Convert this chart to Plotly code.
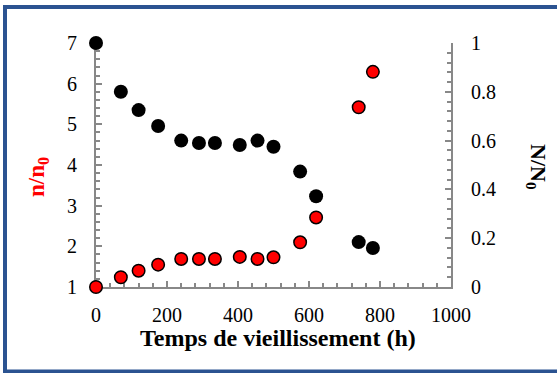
import plotly.graph_objects as go

# Data
time_h = [0, 70, 120, 175, 240, 290, 335, 405, 455, 500, 575, 620, 740, 780]
n_ratio = [1.0, 1.24, 1.40, 1.55, 1.69, 1.69, 1.69, 1.74, 1.69, 1.73, 2.10, 2.71, 5.42, 6.29]
N_ratio = [1.0, 0.80, 0.725, 0.66, 0.60, 0.59, 0.59, 0.582, 0.60, 0.575, 0.473, 0.372, 0.184, 0.16]

x_ticks = [0, 200, 400, 600, 800, 1000]
left_ticks = [1, 2, 3, 4, 5, 6, 7]
right_ticks = [0, 0.2, 0.4, 0.6, 0.8, 1]

FONT = "Liberation Serif"
AX = "#888888"
W, H = 557, 373
L, R, T, B = 96, 106, 43, 86
PW, PH = W - L - R, H - T - B


def px2x(px):
    return (px - L) / PW


def py2y(py):
    return 1 - (py - T) / PH


fig = go.Figure()
fig.add_trace(go.Scatter(
    x=time_h, y=N_ratio, mode="markers", yaxis="y2", cliponaxis=False,
    marker=dict(color="black", size=14, line=dict(width=0)),
    showlegend=False))
fig.add_trace(go.Scatter(
    x=time_h, y=n_ratio, mode="markers", yaxis="y", cliponaxis=False,
    marker=dict(color="#FF0000", size=12.5, line=dict(color="black", width=1.5)),
    showlegend=False))

common = dict(showgrid=False, zeroline=False, showline=True, linecolor=AX, linewidth=2,
              ticks="inside", tickcolor=AX, tickwidth=2, ticklen=6,
              tickfont=dict(family=FONT, size=20, color="black"), layer="below traces")

fig.update_layout(
    width=W, height=H,
    margin=dict(l=L, r=R, t=T, b=B),
    font=dict(family=FONT, color="black"),
    paper_bgcolor="white", plot_bgcolor="white",
    xaxis=dict(range=[0, 1000], tickvals=x_ticks, ticktext=[str(v) for v in x_ticks],
               minor=dict(dtick=40, ticks="inside", ticklen=4, tickcolor=AX, tickwidth=2),
               ticklabelstandoff=9, **common),
    yaxis=dict(range=[1, 7], tickvals=left_ticks, ticktext=[str(v) for v in left_ticks],
               minor=dict(dtick=0.2, ticks="inside", ticklen=4, tickcolor=AX, tickwidth=2),
               ticklabelstandoff=13, **common),
    yaxis2=dict(range=[0, 1], overlaying="y", side="right",
                tickvals=right_ticks, ticktext=["0", "0.2", "0.4", "0.6", "0.8", "1"],
                minor=dict(dtick=0.04, ticks="inside", ticklen=4, tickcolor=AX, tickwidth=2),
                ticklabelstandoff=14, **common),
)

fig.add_annotation(text="<b>Temps de vieillissement (h)</b>", xref="paper", yref="paper",
                   x=px2x(278), y=py2y(338), xanchor="center", yanchor="middle", showarrow=False,
                   font=dict(family=FONT, size=24, color="black"))
fig.add_annotation(text="<b>n/n<sub>0</sub></b>", xref="paper", yref="paper",
                   x=px2x(38), y=py2y(177), xanchor="center", yanchor="middle",
                   showarrow=False, textangle=-90,
                   font=dict(family=FONT, size=23, color="#FF0000"))
fig.add_annotation(text="<b>N/N<sub>0</sub></b>", xref="paper", yref="paper",
                   x=px2x(537), y=py2y(167), xanchor="center", yanchor="middle",
                   showarrow=False, textangle=90,
                   font=dict(family=FONT, size=22, color="black"))

fig.add_shape(type="rect", xref="paper", yref="paper",
              x0=px2x(5), x1=px2x(562), y0=py2y(371.5), y1=py2y(7),
              line=dict(color="#2B5391", width=4), fillcolor="rgba(0,0,0,0)")

fig.write_html("out.html", config={"displayModeBar": False},
               post_script="document.body.style.margin='0';document.body.style.overflow='hidden';")
